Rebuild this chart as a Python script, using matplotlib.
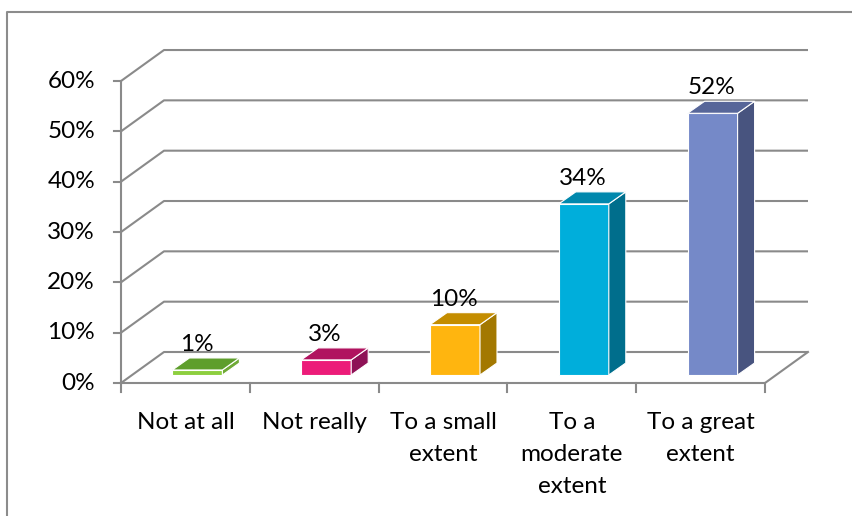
import numpy as np
import matplotlib
matplotlib.use("Agg")
import matplotlib.pyplot as plt
from matplotlib.patches import Polygon
from matplotlib.lines import Line2D

plt.rcParams['font.family'] = ['Lato', 'DejaVu Sans']

categories = ["Not at all", "Not really", "To a small\nextent",
              "To a\nmoderate\nextent", "To a great\nextent"]
values = [1, 3, 10, 34, 52]
y_ticks = [0, 10, 20, 30, 40, 50, 60]

# front / top / side shade for each column
front_cols = ['#8DCF3F', '#EC1C79', '#FFB50F', '#00AEDB', '#7589C8']
top_cols = ['#5E9E2C', '#B0135F', '#C48D00', '#0088AD', '#576699']
side_cols = ['#6FAA36', '#8E1256', '#A37800', '#006E8C', '#48547F']

W, H = 853, 516
PXC = 128.8      # pixels per category
PXY = 5.033      # pixels per percent
X0, Y0 = 121, 383  # pixel position of the front-left floor corner

# 3d look: depth of the floor/walls, and where the columns sit in it
DX, DY = 43 / PXC, 31 / PXY
BX, BY = 12 / PXC, 8 / PXY
BDX, BDY = 17 / PXC, 12 / PXY
BW = 50 / PXC

FS = 17.5
grid_col = '#8A8A8A'
n = len(values)

fig = plt.figure(figsize=(W / 100, H / 100), dpi=100)
ax = fig.add_axes([0, 0, 1, 1])
ax.set_xlim(-0.5 - X0 / PXC, -0.5 + (W - X0) / PXC)
ax.set_ylim(-(H - Y0) / PXY, Y0 / PXY)
ax.axis('off')

x_left, x_right = -0.5, n - 0.5

# back wall gridlines + left wall diagonals
for t in y_ticks:
    ax.plot([x_left, x_left + DX, x_right + DX], [t, t + DY, t + DY],
            color=grid_col, lw=1.5, zorder=1, solid_capstyle='butt')
# floor
ax.plot([x_left, x_right, x_right + DX], [0, 0, DY], color=grid_col, lw=1.5, zorder=1)
# vertical axis
ax.plot([x_left, x_left], [0, max(y_ticks)], color=grid_col, lw=1.5, zorder=1)
for t in y_ticks:
    ax.plot([x_left - 7 / PXC, x_left], [t, t], color=grid_col, lw=1.5, zorder=1)
    ax.text(x_left - 26 / PXC, t, f"{t}%", ha='right', va='center',
            fontsize=FS, color='black')
# category ticks
for k in range(n + 1):
    ax.plot([x_left + k, x_left + k], [0, -9 / PXY], color=grid_col, lw=1.5, zorder=1)

for i, v in enumerate(values):
    xl = i - BW / 2 + BX
    xr = xl + BW
    yb = BY
    yt = BY + v
    front = Polygon([(xl, yb), (xr, yb), (xr, yt), (xl, yt)], closed=True,
                    fc=front_cols[i], ec='white', lw=0.8, zorder=3)
    side = Polygon([(xr, yb), (xr + BDX, yb + BDY), (xr + BDX, yt + BDY), (xr, yt)],
                   closed=True, fc=side_cols[i], ec='white', lw=0.8, zorder=3)
    top = Polygon([(xl, yt), (xr, yt), (xr + BDX, yt + BDY), (xl + BDX, yt + BDY)],
                  closed=True, fc=top_cols[i], ec='white', lw=0.8, zorder=3)
    for p in (front, side, top):
        ax.add_patch(p)
    ax.text(i + BX - 1 / PXC, yt + BDY + 3 / PXY, f"{v}%", ha='center', va='bottom',
            fontsize=FS, color='black', zorder=4)
    ax.text(i, -29 / PXY, categories[i], ha='center', va='top', fontsize=FS,
            linespacing=1.65, color='black')

# outer chart border
fx, fy = 7 / W, 1 - 12 / H
fig.add_artist(Line2D([fx, fx, 1.0], [0.0, fy, fy], transform=fig.transFigure,
                      color='#8C8C8C', lw=1.5))

fig.savefig('out.png', dpi=100)
